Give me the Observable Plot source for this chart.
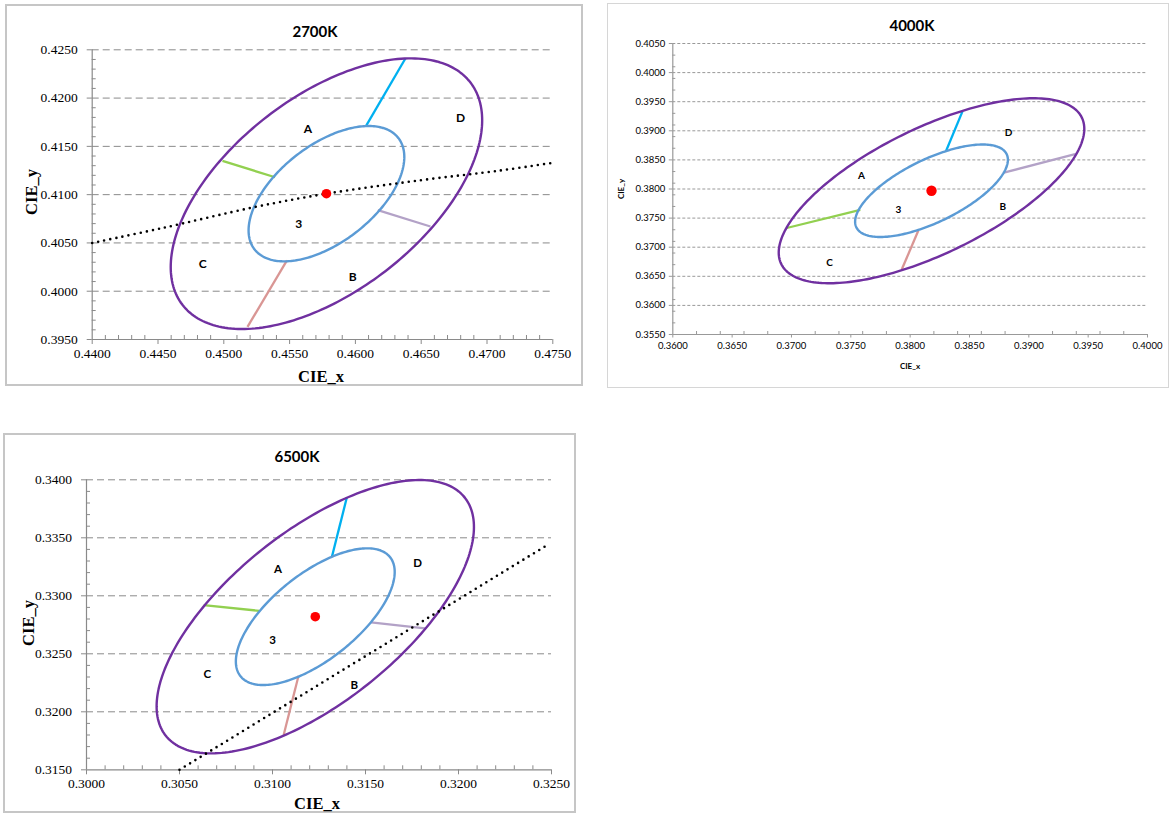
<!DOCTYPE html>
<html><head><meta charset="utf-8">
<script src="https://cdn.jsdelivr.net/npm/d3@7"></script>
<script src="https://cdn.jsdelivr.net/npm/@observablehq/plot@0.6"></script>
<style>
html,body{margin:0;padding:0;background:#fff}
#page{position:relative;width:1174px;height:814px;overflow:hidden;background:#fff}
.frame{position:absolute;box-sizing:border-box;background:#fff}
.svgbox{position:absolute}
.lbl{position:absolute;white-space:nowrap;transform:translate(-50%,-50%);color:#000;line-height:1}
.rot{transform:translate(-50%,-50%) rotate(-90deg)}
</style></head><body>
<div id="page"></div>
<script>
// ---------------- data ----------------
const chartNames = ["2700K", "4000K", "6500K"];

// axis tick values
const xTicks2700 = [0.4400, 0.4450, 0.4500, 0.4550, 0.4600, 0.4650, 0.4700, 0.4750];
const yTicks2700 = [0.3950, 0.4000, 0.4050, 0.4100, 0.4150, 0.4200, 0.4250];
const xTicks4000 = [0.3600, 0.3650, 0.3700, 0.3750, 0.3800, 0.3850, 0.3900, 0.3950, 0.4000];
const yTicks4000 = [0.3550, 0.3600, 0.3650, 0.3700, 0.3750, 0.3800, 0.3850, 0.3900, 0.3950, 0.4000, 0.4050];
const xTicks6500 = [0.3000, 0.3050, 0.3100, 0.3150, 0.3200, 0.3250];
const yTicks6500 = [0.3150, 0.3200, 0.3250, 0.3300, 0.3350, 0.3400];
const minorStep = [0.001, 0.002, 0.001];

// ellipse centres (red dots) and ellipse parameters
const centerX = [0.4578, 0.3818, 0.3123];
const centerY = [0.4101, 0.3797, 0.3282];
const outerA = [0.0162, 0.01878, 0.01340];
const outerB = [0.0086, 0.00810, 0.00566];
const innerA = [0.0081, 0.00939, 0.00670];
const innerB = [0.0043, 0.00405, 0.00284];
const tiltDeg = [53.7, 53.8, 58.3];

// coloured connector segments: cyan, green, lavender, rose
const segColors = ["#00B0F0", "#92D050", "#B3A2C7", "#D99694"];
const seg2700X1 = [0.4608, 0.4539, 0.4617, 0.4548];
const seg2700Y1 = [0.4171, 0.4118, 0.4084, 0.4032];
const seg2700X2 = [0.4638, 0.4499, 0.4657, 0.4518];
const seg2700Y2 = [0.4241, 0.4135, 0.4067, 0.3963];
const seg4000X1 = [0.3830, 0.3758, 0.3879, 0.3807];
const seg4000Y1 = [0.3864, 0.3764, 0.3828, 0.3729];
const seg4000X2 = [0.3844, 0.3696, 0.3939, 0.3793];
const seg4000Y2 = [0.3933, 0.3733, 0.3860, 0.3662];
const seg6500X1 = [0.3132, 0.3093, 0.3153, 0.3114];
const seg6500Y1 = [0.3334, 0.3287, 0.3277, 0.3231];
const seg6500X2 = [0.3140, 0.3063, 0.3182, 0.3106];
const seg6500Y2 = [0.3385, 0.3292, 0.3272, 0.3180];

// region labels
const regionText = ["A", "B", "C", "D", "3"];
const region2700X = [0.4564, 0.4598, 0.4484, 0.4680, 0.4557];
const region2700Y = [0.4168, 0.4015, 0.4028, 0.4179, 0.4069];
const region4000X = [0.3759, 0.3878, 0.3732, 0.3883, 0.3790];
const region4000Y = [0.3823, 0.3770, 0.3674, 0.3896, 0.3765];
const region6500X = [0.3103, 0.3144, 0.3065, 0.3178, 0.3100];
const region6500Y = [0.3323, 0.3223, 0.3232, 0.3328, 0.3262];

// dotted locus lines
const locus2700X = [0.4400, 0.4452, 0.4523, 0.4578, 0.4650, 0.4710, 0.4750];
const locus2700Y = [0.4050, 0.4065, 0.4087, 0.4101, 0.4115, 0.4125, 0.4133];
const locus4000X = [];
const locus4000Y = [];
const locus6500X = [0.3050, 0.3249];
const locus6500Y = [0.3150, 0.3345];

// ---------------- assemble ----------------
const ticksX = [xTicks2700, xTicks4000, xTicks6500];
const ticksY = [yTicks2700, yTicks4000, yTicks6500];
const segs = [
  [seg2700X1, seg2700Y1, seg2700X2, seg2700Y2],
  [seg4000X1, seg4000Y1, seg4000X2, seg4000Y2],
  [seg6500X1, seg6500Y1, seg6500X2, seg6500Y2]
];
const regions = [[region2700X, region2700Y], [region4000X, region4000Y], [region6500X, region6500Y]];
const loci = [[locus2700X, locus2700Y], [locus4000X, locus4000Y], [locus6500X, locus6500Y]];

function ellipsePts(cx, cy, a, b, deg) {
  const t = deg * Math.PI / 180, n = 240;
  return d3.range(n + 1).map(i => {
    const u = 2 * Math.PI * i / n;
    return {
      x: cx + a * Math.cos(u) * Math.cos(t) - b * Math.sin(u) * Math.sin(t),
      y: cy + a * Math.cos(u) * Math.sin(t) + b * Math.sin(u) * Math.cos(t)
    };
  });
}
function minorTicks(majors, step) {
  const lo = majors[0], hi = majors[majors.length - 1];
  const n = Math.round((hi - lo) / step);
  return d3.range(n + 1).map(i => lo + i * step)
    .filter(v => !majors.some(m => Math.abs(m - v) < step / 10));
}

// layout / style per chart
const layout = [
  {frame: [5, 4, 578, 382], border: "2px solid #c6c6c6", m: [45.3, 30.7, 47, 86.7],
   tickFont: "'Liberation Serif', serif", tickSize: 13.5, majorLen: 5, minorLen: 4, padY: 9.5, padX: 4,
   dash: "7,4", grid: "#8a8a8a",
   title: [315, 31, 15], xl: [321, 377], yl: [32, 192], axisFont: "bold 16.5px 'Liberation Serif', serif",
   regionSize: 12, dotR: 4.8},
  {frame: [607, 3, 562, 385], border: "1.5px solid #d6d6d6", m: [40, 22, 54, 65.3],
   tickFont: "Lato, sans-serif", tickSize: 9.5, majorLen: 3.5, minorLen: 3, padY: 4, padX: 4,
   dash: "3,2", grid: "#999999",
   title: [912, 25, 15], xl: [910, 366], yl: [621, 189], axisFont: "bold 8px Lato, sans-serif",
   regionSize: 10, dotR: 5.2},
  {frame: [3, 433, 573, 380], border: "2px solid #c6c6c6", m: [46.3, 25, 43.7, 83],
   tickFont: "'Liberation Serif', serif", tickSize: 13.5, majorLen: 5, minorLen: 4, padY: 9.5, padX: 4,
   dash: "7,4", grid: "#8a8a8a",
   title: [297, 456, 15], xl: [317, 804], yl: [29, 623], axisFont: "bold 16.5px 'Liberation Serif', serif",
   regionSize: 11.5, dotR: 4.8}
];

const page = document.getElementById("page");
const fmt = d3.format(".4f");

chartNames.forEach((name, i) => {
  const L = layout[i];
  const [fx, fy, fw, fh] = L.frame;
  const frame = document.createElement("div");
  frame.className = "frame";
  Object.assign(frame.style, {left: fx + "px", top: fy + "px", width: fw + "px", height: fh + "px", border: L.border});
  page.appendChild(frame);

  const xt = ticksX[i], yt = ticksY[i];
  const xDom = [xt[0], xt[xt.length - 1]], yDom = [yt[0], yt[yt.length - 1]];
  const outer = ellipsePts(centerX[i], centerY[i], outerA[i], outerB[i], tiltDeg[i]);
  const inner = ellipsePts(centerX[i], centerY[i], innerA[i], innerB[i], tiltDeg[i]);
  const [sx1, sy1, sx2, sy2] = segs[i];
  const segData = sx1.map((_, k) => ({x1: sx1[k], y1: sy1[k], x2: sx2[k], y2: sy2[k], c: segColors[k]}));
  const [rx, ry] = regions[i];
  const regData = regionText.map((t, k) => ({x: rx[k], y: ry[k], t}));
  const [lx, ly] = loci[i];
  const locData = lx.map((x, k) => ({x, y: ly[k]}));

  const svg = Plot.plot({
    width: fw, height: fh,
    marginTop: L.m[0], marginRight: L.m[1], marginBottom: L.m[2], marginLeft: L.m[3],
    x: {domain: xDom},
    y: {domain: yDom},
    style: {fontFamily: L.tickFont, fontSize: L.tickSize + "px", color: "#000", background: "transparent", overflow: "visible"},
    marks: [
      Plot.ruleY(yt.slice(1), {stroke: L.grid, strokeWidth: 1, strokeDasharray: L.dash}),
      Plot.ruleX([xDom[0]], {stroke: L.grid, strokeWidth: 1.2}),
      Plot.ruleY([yDom[0]], {stroke: L.grid, strokeWidth: 1.2}),
      Plot.axisX({ticks: xt, anchor: "bottom", tickSize: L.majorLen, tickPadding: L.padX, tickFormat: fmt,
        stroke: L.grid, fill: "#000", label: null}),
      Plot.axisX({ticks: minorTicks(xt, minorStep[i]), anchor: "bottom", tickSize: L.minorLen, dy: -L.minorLen,
        stroke: L.grid, fill: "none", label: null}),
      Plot.axisY({ticks: yt, anchor: "left", tickSize: L.majorLen, tickPadding: L.padY, tickFormat: fmt,
        stroke: L.grid, fill: "#000", label: null}),
      Plot.axisY({ticks: minorTicks(yt, minorStep[i]), anchor: "left", tickSize: L.minorLen, dx: L.minorLen,
        stroke: L.grid, fill: "none", label: null}),
      Plot.link(segData, {x1: "x1", y1: "y1", x2: "x2", y2: "y2", stroke: d => d.c, strokeWidth: 2.3}),
      Plot.line(outer, {x: "x", y: "y", stroke: "#7030A0", strokeWidth: 2.4}),
      Plot.line(inner, {x: "x", y: "y", stroke: "#5B9BD5", strokeWidth: 2.4}),
      Plot.line(locData, {x: "x", y: "y", curve: "catmull-rom", stroke: "#000", strokeWidth: 2.6,
        strokeDasharray: "0,6.2", strokeLinecap: "round"}),
      Plot.dot([{x: centerX[i], y: centerY[i]}], {x: "x", y: "y", r: L.dotR, fill: "#FF0000", stroke: "none"}),
      Plot.text(regData, {x: "x", y: "y", text: "t", fontFamily: "Lato, sans-serif", fontWeight: "bold",
        fontSize: L.regionSize, fill: "#000"})
    ]
  });
  const box = document.createElement("div");
  box.className = "svgbox";
  Object.assign(box.style, {left: fx + "px", top: fy + "px", width: fw + "px", height: fh + "px"});
  box.appendChild(svg);
  page.appendChild(box);

  const addText = (txt, x, y, font, extraClass) => {
    const d = document.createElement("div");
    d.className = "lbl" + (extraClass ? " " + extraClass : "");
    d.textContent = txt;
    d.style.left = x + "px"; d.style.top = y + "px"; d.style.font = font;
    page.appendChild(d);
  };
  addText(name, L.title[0], L.title[1], `bold ${L.title[2]}px Lato, sans-serif`);
  addText("CIE_x", L.xl[0], L.xl[1], L.axisFont);
  addText("CIE_y", L.yl[0], L.yl[1], L.axisFont, "rot");
});
</script>
</body></html>
